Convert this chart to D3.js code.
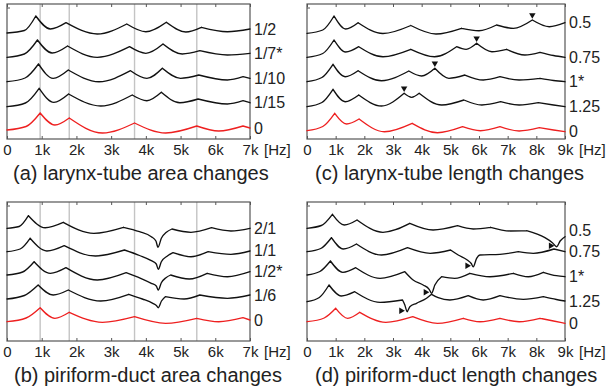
<!DOCTYPE html>
<html><head><meta charset="utf-8">
<script src="https://cdn.jsdelivr.net/npm/d3@7"></script>
<style>
body{margin:0;background:#fff}
svg{display:block}
text{font-family:"Liberation Sans",Arial,sans-serif;fill:#222}
</style>
</head><body>
<svg id="chart" width="609" height="392"></svg>
<script>
// ---------- data ----------
const ticks7 = [0,1000,2000,3000,4000,5000,6000,7000];
const tickLabels7 = ["0","1k","2k","3k","4k","5k","6k","7k"];
const ticks9 = [0,1000,2000,3000,4000,5000,6000,7000,8000,9000];
const tickLabels9 = ["0","1k","2k","3k","4k","5k","6k","7k","8k","9k"];
const unitLabel = "[Hz]";

const curveLabelsA = ["1/2","1/7*","1/10","1/15","0"];
const curveLabelsB = ["2/1","1/1","1/2*","1/6","0"];
const curveLabelsC = ["0.5","0.75","1*","1.25","0"];
const curveLabelsD = ["0.5","0.75","1*","1.25","0"];

const titleA = "(a) larynx-tube area changes";
const titleB = "(b) piriform-duct area changes";
const titleC = "(c) larynx-tube length changes";
const titleD = "(d)  piriform-duct length changes";

// reference formant frequencies (grey lines) [Hz]
const refFormants = [955, 1793, 3674, 5467];

// marker frequencies (c: moved peak, d: antiresonance dip)
const markersC = [7860, 5917, 4460, 3388];
const markersD = [8711, 5799, 4345, 3493];

// spectra: [frequency Hz, level (offset, arbitrary units)]
const A_1_2  = [[0,106],[500,108.5],[830,123],[1250,110],[1700,116.3],[2600,105],[3450,115],[4000,107.3],[4590,116.7],[5150,107],[5600,111.7],[6350,107.3],[7000,110]];
const A_1_7  = [[0,81.7],[500,85],[877,99],[1300,86],[1745,93],[2600,81.7],[3530,92.3],[4000,85.7],[4494,95],[5050,85],[5554,88.3],[6350,84],[7000,85.7]];
const A_1_10 = [[0,57.3],[520,61],[907,75],[1330,60.7],[1765,69],[2650,57.3],[3558,68.3],[4030,60.7],[4475,70.7],[5000,60.7],[5525,64],[6350,59],[6800,62.3],[7000,60.7]];
const A_1_15 = [[0,32.3],[530,36],[926,50.7],[1350,36.7],[1774,45],[2700,33],[3606,44],[4030,38.3],[4446,46.7],[4980,36.3],[5505,40],[6350,35],[6800,38.3],[7000,36.3]];
const A_0    = [[0,9],[550,12.5],[955,26],[1380,14],[1793,21],[2750,6],[3674,16],[4570,6],[5467,13],[6100,8],[6798,13],[7000,11]];

const B_2_1 = [[0,112.7],[350,114.5],[617,125.3],[1100,113.3],[1620,118.7],[2500,107.7],[3356,113.7],[3818,109.3],[4157,104.3],[4290,100],[4349,93.7],[4446,102.7],[4591,108.7],[4753,112],[5300,108.7],[5892,113.3],[6450,110],[7000,112.7]];
const B_1_1 = [[0,89.3],[380,92],[665,102.7],[1150,90],[1649,95.3],[2550,85],[3384,91],[3818,85.5],[4157,80.3],[4300,77],[4358,71.7],[4446,79.3],[4620,85],[4782,88.3],[5300,84.3],[5795,89.3],[6450,86.7],[7000,90]];
const B_1_2 = [[0,66],[450,69],[781,79.3],[1250,67.7],[1698,73.3],[2600,61],[3433,68.3],[3850,62.7],[4157,57.7],[4300,55],[4358,51],[4446,58.3],[4580,63.3],[4715,66],[5250,62],[5766,67.7],[6350,64.3],[7000,69.3]];
const B_1_6 = [[0,42],[500,45.5],[897,56],[1330,46],[1765,51],[2700,40],[3509,46.7],[3900,42],[4200,37.7],[4310,35.3],[4358,33.3],[4450,40],[4561,44.3],[5100,42],[5554,46],[6350,42.7],[7000,46]];
const B_0   = [[0,19.3],[550,23],[955,33.3],[1380,22.7],[1793,28.7],[2750,18.7],[3674,24.3],[4570,17.7],[5467,22.7],[6100,19.3],[6798,23.3],[7000,21]];

const C_05  = [[0,105.7],[550,109],[943,123],[1350,110],[1782,116.3],[2650,105.5],[3622,113.5],[4500,105],[5390,110.7],[6000,108.3],[6610,114],[7200,110.7],[7860,119],[8450,112.3],[9000,116.3]];
const C_075 = [[0,81.7],[550,85.5],[943,99],[1350,87],[1806,92.3],[2650,82.3],[3622,89.7],[4450,82.3],[5218,92.3],[5550,89.7],[5917,95.7],[6450,87.3],[6964,89.7],[7600,84],[8128,86.7],[8600,83.5],[9000,81.7]];
const C_1   = [[0,57.3],[520,61.5],[908,74.7],[1330,62.3],[1782,68.3],[2600,58.3],[3552,68],[4000,63],[4460,70.7],[4950,60.7],[5508,64],[6150,59],[6731,62.3],[7400,59],[8128,60.7],[8600,58.5],[9000,57.3]];
const C_125 = [[0,32.3],[520,36.5],[908,49.7],[1330,37.3],[1806,44],[2600,33],[3388,45.7],[3650,41.7],[3912,45.7],[4700,34],[5473,39],[6100,34],[6755,37.3],[7400,34],[8069,36.3],[8600,34],[9000,32.3]];
const C_0   = [[0,8.3],[550,12.5],[967,25.7],[1380,15],[1817,20],[2700,7.3],[3668,15.7],[4550,6.3],[5427,12.3],[6050,8.3],[6731,12.3],[7400,8],[8104,11.3],[8600,9],[9000,7.3]];

const D_05  = [[0,112.7],[500,115.5],[887,126.7],[1300,116],[1746,121],[2650,108.7],[3587,117.7],[4400,111],[5253,115.3],[5800,112],[6406,113.7],[7100,110],[7660,110.3],[8300,103.3],[8560,98.3],[8711,94.3],[8830,100],[9000,104.3]];
const D_075 = [[0,89.3],[480,92.5],[852,103.3],[1270,92],[1725,97],[2600,86],[3506,93.3],[4300,87.7],[5008,91],[5275,86],[5590,81],[5730,77.5],[5799,74.3],[5917,82.7],[6032,86],[6731,86.7],[7370,89.3],[7894,87.7],[8617,92],[9000,89.3]];
const D_1   = [[0,66],[450,69.5],[817,80],[1250,68.7],[1701,73.3],[2550,62.7],[3413,69.3],[3703,61],[4052,56],[4262,51.7],[4345,47.7],[4460,56],[4694,64.3],[5150,62.7],[5683,67.7],[6382,64.3],[7196,67.7],[7719,64.3],[8243,68.7],[8700,65.3],[9000,64.3]];
const D_125 = [[0,39.3],[430,43.5],[768,56],[1200,45],[1666,49.3],[2550,38.7],[3332,41],[3413,36],[3493,29.3],[3587,34.3],[3821,37.7],[4170,42.7],[4345,46.7],[4577,43.3],[4984,41],[5624,45.3],[6147,41],[6731,45.3],[7545,41.7],[8243,44.3],[8700,41.5],[9000,40]];
const D_0   = [[0,19.3],[600,23],[1002,32.7],[1420,22.7],[1841,28.7],[2750,18.7],[3690,24.3],[4550,17.7],[5449,22.7],[6032,19.3],[6731,22.7],[7400,19.3],[8128,22.7],[8600,20],[9000,17.7]];

// ---------- layout ----------
const svg = d3.select("#chart");
const FONT = '"Liberation Sans",Arial,sans-serif';
const panels = [
  {box:[7,4,250,139],   xMax:7000, ticks:ticks7, tl:tickLabels7, curves:[A_1_2,A_1_7,A_1_10,A_1_15,A_0], labels:curveLabelsA, ref:true,  title:titleA, tx:13,  ty:180},
  {box:[7,202,250,341], xMax:7000, ticks:ticks7, tl:tickLabels7, curves:[B_2_1,B_1_1,B_1_2,B_1_6,B_0], labels:curveLabelsB, ref:true,  title:titleB, tx:14,  ty:382},
  {box:[307,4,565,139], xMax:9000, ticks:ticks9, tl:tickLabels9, curves:[C_05,C_075,C_1,C_125,C_0],   labels:curveLabelsC, ref:false, title:titleC, tx:315, ty:180, mk:markersC, mkType:"down"},
  {box:[307,202,565,341],xMax:9000,ticks:ticks9, tl:tickLabels9, curves:[D_05,D_075,D_1,D_125,D_0],   labels:curveLabelsD, ref:false, title:titleD, tx:315, ty:382, mk:markersD, mkType:"right"}
];

// split a spectrum at its local maxima so that peaks are drawn as cusps
function splitAtPeaks(pts){
  const segs=[]; let cur=[pts[0]];
  for(let i=1;i<pts.length;i++){
    cur.push(pts[i]);
    if(i<pts.length-1 && pts[i][1]>pts[i-1][1] && pts[i][1]>pts[i+1][1]){ segs.push(cur); cur=[pts[i]]; }
  }
  segs.push(cur); return segs;
}
function levelAt(pts,f){ const p = pts.find(d=>d[0]===f); return p ? p[1] : 0; }

panels.forEach(p=>{
  const [x0,y0,x1,y1] = p.box;
  const x = d3.scaleLinear().domain([0,p.xMax]).range([x0,x1]);
  const y = d3.scaleLinear().domain([0,y1-y0]).range([y1,y0]);
  const g = svg.append("g");

  if(p.ref){
    g.selectAll("line.ref").data(refFormants).join("line").attr("class","ref")
      .attr("x1",d=>x(d)).attr("x2",d=>x(d)).attr("y1",y0).attr("y2",y1)
      .attr("stroke","#c4c4c4").attr("stroke-width",1.4);
  }

  // axes (ticks inward on top & bottom)
  const axB = d3.axisBottom(x).tickValues(p.ticks).tickFormat((d,i)=>p.tl[i]).tickSizeInner(-3).tickSizeOuter(0).tickPadding(5);
  const gb = g.append("g").attr("transform",`translate(0,${y1})`).call(axB);
  gb.select(".domain").remove();
  gb.selectAll("line").attr("stroke","#555");
  gb.selectAll("text").attr("font-size",15).attr("fill","#222").style("font-family",FONT);
  const axT = d3.axisTop(x).tickValues(p.ticks).tickFormat("").tickSizeInner(-3).tickSizeOuter(0);
  const gt = g.append("g").attr("transform",`translate(0,${y0})`).call(axT);
  gt.select(".domain").remove();
  gt.selectAll("line").attr("stroke","#555");
  g.append("line").attr("x1",x0).attr("x2",x0+3).attr("y1",y0+4).attr("y2",y0+4).attr("stroke","#555");

  g.append("text").attr("x",x1+14).attr("y",y1+16).attr("font-size",15).text(unitLabel);

  // frame
  g.append("rect").attr("x",x0).attr("y",y0).attr("width",x1-x0).attr("height",y1-y0)
    .attr("fill","none").attr("stroke","#555").attr("stroke-width",1.2);

  // curves
  const line = d3.line().x(d=>x(d[0])).y(d=>y(d[1])).curve(d3.curveMonotoneX);
  g.selectAll("path.sp").data(p.curves).join("path").attr("class","sp")
    .attr("d",d=>splitAtPeaks(d).map(s=>line(s)).join(""))
    .attr("fill","none")
    .attr("stroke",(d,i)=> i===p.curves.length-1 ? "#ee2020" : "#111")
    .attr("stroke-width",1.35).attr("stroke-linecap","round").attr("stroke-linejoin","round");

  // curve labels at right, at the curve's end level, kept apart
  const ly = p.curves.map(d=>y(d[d.length-1][1]));
  for(let i=ly.length-2;i>=0;i--) ly[i] = Math.min(ly[i], ly[i+1]-21);
  g.selectAll("text.cl").data(p.curves).join("text").attr("class","cl")
    .attr("x",x1+4).attr("y",(d,i)=>ly[i]).attr("dy","0.36em")
    .attr("font-size",16).text((d,i)=>p.labels[i]);

  // markers
  if(p.mk){
    const sym = d3.symbol().type(d3.symbolTriangle).size(18);
    g.selectAll("path.mk").data(p.mk).join("path").attr("class","mk")
      .attr("d",sym)
      .attr("transform",(f,i)=>{
        const lv = levelAt(p.curves[i],f);
        return p.mkType==="down"
          ? `translate(${x(f)},${y(lv)-5}) rotate(180)`
          : `translate(${x(f)-6},${y(lv)-1}) rotate(90)`;
      })
      .attr("fill","#111");
  }

  g.append("text").attr("x",p.tx).attr("y",p.ty).attr("font-size",20).text(p.title);
});
</script>
</body></html>
